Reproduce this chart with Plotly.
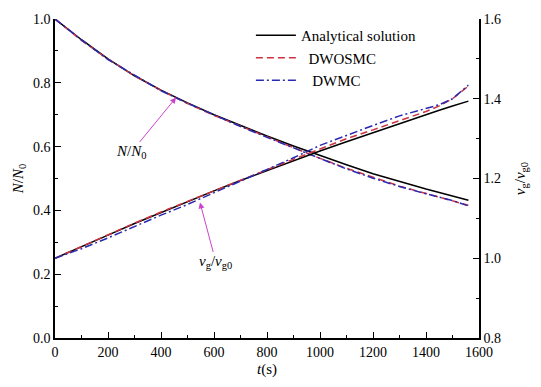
import plotly.graph_objects as go

# time grid (s)
t = [0, 100, 200, 300, 400, 500, 600, 700, 800, 900, 1000, 1100, 1200, 1300, 1400, 1450, 1500, 1560]

# particle number ratio N/N0
n_analytical = [1.000, 0.935, 0.875, 0.822, 0.777, 0.737, 0.700, 0.666, 0.633, 0.602,
                0.572, 0.543, 0.515, 0.490, 0.467, 0.456, 0.446, 0.432]
n_dwosmc = [1.000, 0.933, 0.874, 0.822, 0.776, 0.735, 0.698, 0.664, 0.630, 0.597,
            0.563, 0.532, 0.503, 0.476, 0.453, 0.441, 0.430, 0.416]
n_dwmc = [1.000, 0.934, 0.873, 0.823, 0.775, 0.736, 0.699, 0.663, 0.629, 0.596,
          0.562, 0.530, 0.501, 0.475, 0.452, 0.442, 0.431, 0.414]

# geometric mean volume ratio vg/vg0
v_analytical = [1.000, 1.030, 1.058, 1.087, 1.115, 1.142, 1.169, 1.195, 1.220, 1.245,
                1.269, 1.292, 1.315, 1.338, 1.360, 1.371, 1.382, 1.394]
v_dwosmc = [1.000, 1.030, 1.059, 1.088, 1.116, 1.143, 1.170, 1.196, 1.222, 1.248,
            1.274, 1.300, 1.322, 1.345, 1.368, 1.382, 1.400, 1.432]
v_dwmc = [1.000, 1.024, 1.051, 1.080, 1.108, 1.135, 1.164, 1.192, 1.222, 1.252,
          1.283, 1.309, 1.333, 1.357, 1.375, 1.385, 1.400, 1.434]

series_names = ["Analytical solution", "\u00a0\u00a0DWOSMC", "\u00a0\u00a0\u00a0DWMC"]
colors = ["#000000", "#cc3340", "#2a2ab0"]
dashes = ["solid", "7px,4px", "8px,3px,2px,3px"]

FONT = "Liberation Serif, Times New Roman, serif"

fig = go.Figure()

n_sets = [n_analytical, n_dwosmc, n_dwmc]
v_sets = [v_analytical, v_dwosmc, v_dwmc]
for i in range(3):
    fig.add_trace(go.Scatter(
        x=t, y=n_sets[i], mode="lines", name=series_names[i],
        legendgroup=str(i), showlegend=True,
        line=dict(color=colors[i], width=1.5, dash=dashes[i]),
        yaxis="y"))
for i in range(3):
    fig.add_trace(go.Scatter(
        x=t, y=v_sets[i], mode="lines", name=series_names[i],
        legendgroup=str(i), showlegend=False,
        line=dict(color=colors[i], width=1.5, dash=dashes[i]),
        yaxis="y2"))

axis_common = dict(
    showline=True, linecolor="black", linewidth=1.5,
    ticks="inside", ticklen=6, tickwidth=1.2, tickcolor="black",
    showgrid=False, zeroline=False,
    tickfont=dict(family=FONT, size=14, color="black"),
)

fig.update_layout(
    width=541, height=387,
    margin=dict(l=55, r=62, t=14, b=47),
    paper_bgcolor="white", plot_bgcolor="white",
    font=dict(family=FONT, size=14, color="black"),
    xaxis=dict(
        range=[0, 1600], dtick=200, tick0=0,
        minor=dict(dtick=100, ticks="inside", ticklen=3, tickcolor="black"),
        title=dict(text="<i>t</i>(s)", font=dict(family=FONT, size=15), standoff=5),
        **axis_common),
    yaxis=dict(
        range=[0, 1.0], dtick=0.2, tickformat=".1f",
        minor=dict(dtick=0.1, ticks="inside", ticklen=3, tickcolor="black"),
        title=dict(text="<i>N</i>/<i>N</i><sub>0</sub>", font=dict(family=FONT, size=15), standoff=6),
        **axis_common),
    yaxis2=dict(
        range=[0.8, 1.6], dtick=0.2, tickformat=".1f", overlaying="y", side="right",
        minor=dict(dtick=0.1, ticks="inside", ticklen=3, tickcolor="black"),
        title=dict(text="<i>v</i><sub>g</sub>/<i>v</i><sub>g0</sub>", font=dict(family=FONT, size=15), standoff=14),
        **axis_common),
    legend=dict(
        x=0.462, y=1.0, xanchor="left", yanchor="top",
        bgcolor="rgba(0,0,0,0)", borderwidth=0,
        font=dict(family=FONT, size=15, color="black"),
        tracegroupgap=0, itemwidth=40,
    ),
    showlegend=True,
)

# curve labels with pointer arrows
fig.add_annotation(
    x=457, y=0.754, xref="x", yref="y",
    text="<i>N</i>/<i>N</i><sub>0</sub>", showarrow=True,
    ax=-45, ay=55, arrowhead=2, arrowsize=1.2, arrowwidth=1,
    arrowcolor="#cc44cc", font=dict(family=FONT, size=15, color="black"))
fig.add_annotation(
    x=547, y=1.14, xref="x", yref="y2",
    text="<i>v</i><sub>g</sub>/<i>v</i><sub>g0</sub>", showarrow=True,
    ax=16, ay=60, arrowhead=2, arrowsize=1.2, arrowwidth=1,
    arrowcolor="#cc44cc", font=dict(family=FONT, size=15, color="black"))

fig.write_html("out.html")
